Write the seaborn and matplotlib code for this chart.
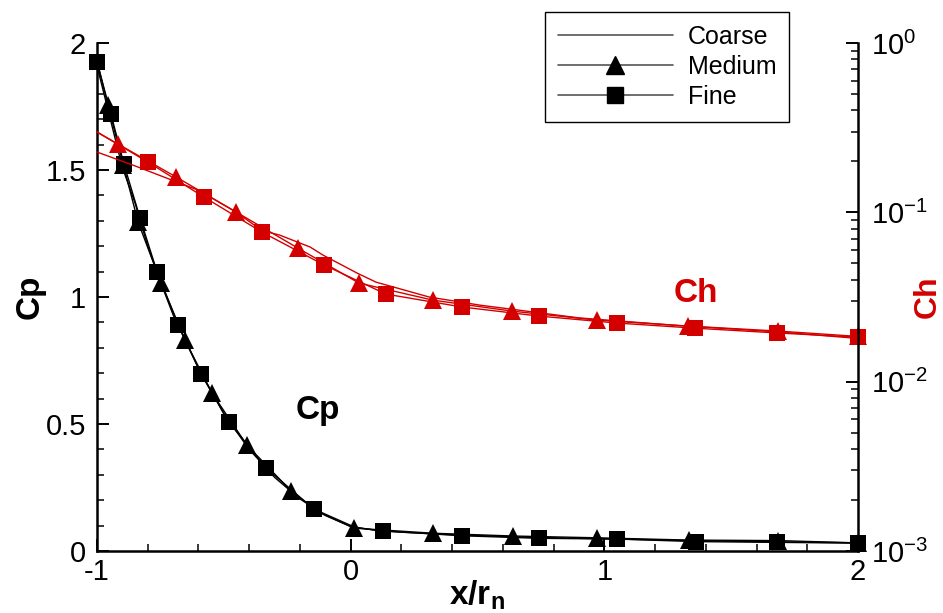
import matplotlib
matplotlib.use('Agg')
import matplotlib.pyplot as plt
from matplotlib.lines import Line2D
from matplotlib.ticker import MultipleLocator, LogLocator
import seaborn as sns
import pandas as pd

# Cp (left axis) - three grids
coarse_cp_x = [-1.0, -0.95, -0.9, -0.85, -0.8, -0.75, -0.7, -0.6, -0.5, -0.4, -0.3, -0.2,
               -0.1, 0.0, 0.1, 0.2, 0.4, 0.7, 1.0, 1.4, 1.7, 2.0]
coarse_cp = [1.91, 1.71, 1.51, 1.37, 1.20, 1.06, 0.93, 0.72, 0.54, 0.40, 0.29, 0.205,
             0.14, 0.097, 0.081, 0.074, 0.064, 0.054, 0.048, 0.040, 0.036, 0.032]

medium_cp_x = [-1.0, -0.957, -0.896, -0.838, -0.747, -0.653, -0.547, -0.409, -0.235, -0.12,
               0.013, 0.324, 0.64, 0.97, 1.333, 1.684, 2.0]
medium_cp = [1.93, 1.756, 1.52, 1.295, 1.055, 0.83, 0.622, 0.417, 0.236, 0.15,
             0.09, 0.07, 0.059, 0.052, 0.043, 0.041, 0.032]

fine_cp_x = [-1.0, -0.945, -0.894, -0.83, -0.763, -0.68, -0.59, -0.48, -0.334, -0.145, 0.02,
             0.127, 0.439, 0.741, 1.05, 1.361, 1.679, 2.0]
fine_cp = [1.925, 1.72, 1.524, 1.31, 1.098, 0.89, 0.697, 0.508, 0.327, 0.165, 0.092,
           0.079, 0.060, 0.050, 0.047, 0.037, 0.034, 0.031]

# Ch (right axis, log) - three grids
coarse_ch_x = [-1.0, -0.85, -0.7, -0.6, -0.45, -0.35, -0.28, -0.16, -0.11, 0.025, 0.10,
               0.31, 0.51, 0.90, 1.3, 1.7, 2.0]
coarse_ch = [0.227, 0.188, 0.154, 0.135, 0.100, 0.078, 0.0734, 0.0624, 0.056, 0.0438, 0.0387,
             0.0316, 0.0283, 0.0238, 0.0214, 0.0196, 0.0180]

medium_ch_x = [-1.0, -0.917, -0.689, -0.452, -0.208, 0.033, 0.324, 0.636, 0.970, 1.329,
               1.684, 2.0]
medium_ch = [0.298, 0.253, 0.162, 0.1005, 0.0615, 0.0382, 0.0303, 0.0261, 0.0231, 0.0213,
             0.0199, 0.0185]

fine_ch_x = [-1.0, -0.799, -0.578, -0.350, -0.105, 0.139, 0.439, 0.742, 1.049, 1.357,
             1.680, 2.0]
fine_ch = [0.298, 0.198, 0.123, 0.0765, 0.0489, 0.0329, 0.0276, 0.0244, 0.0222, 0.0207,
           0.0194, 0.0183]

labels = ['Coarse', 'Medium', 'Fine']
red = '#d40000'

sns.set_style('ticks')
plt.rcParams['font.family'] = ['Liberation Sans', 'DejaVu Sans']
plt.rcParams['mathtext.fontset'] = 'custom'
plt.rcParams['mathtext.rm'] = 'Liberation Sans'
plt.rcParams['mathtext.bf'] = 'Liberation Sans:bold'
plt.rcParams['axes.unicode_minus'] = False
plt.rcParams['text.color'] = 'black'
plt.rcParams['axes.labelcolor'] = 'black'
plt.rcParams['axes.edgecolor'] = 'black'
plt.rcParams['xtick.color'] = 'black'
plt.rcParams['ytick.color'] = 'black'

fig = plt.figure(figsize=(9.43, 6.13), dpi=100)
ax = fig.add_axes([97 / 943, 1 - 551 / 613, 761 / 943, 508 / 613])
ax2 = ax.twinx()

def draw(axis, x, y, color, marker=None, ms=None, skip=()):
    df = pd.DataFrame({'x': x, 'y': y})
    kw = dict(color=color, lw=1.0, clip_on=False, estimator=None, sort=False, legend=False)
    if marker:
        kw.update(marker=marker, markersize=ms, markeredgewidth=0,
                  markevery=[i for i in range(len(x)) if i not in skip])
    sns.lineplot(data=df, x='x', y='y', ax=axis, **kw)

# Cp curves (black)
draw(ax, coarse_cp_x, coarse_cp, 'black')
draw(ax, medium_cp_x, medium_cp, 'black', '^', 13, skip=(0, 9))
draw(ax, fine_cp_x, fine_cp, 'black', 's', 12, skip=(10,))

# Ch curves (red)
draw(ax2, coarse_ch_x, coarse_ch, red)
draw(ax2, medium_ch_x, medium_ch, red, '^', 13, skip=(0,))
draw(ax2, fine_ch_x, fine_ch, red, 's', 12, skip=(0,))

ax.set_xlim(-1, 2)
ax.set_ylim(0, 2)
ax2.set_yscale('log')
ax2.set_ylim(1e-3, 1e0)

ax.xaxis.set_minor_locator(MultipleLocator(0.2))
ax.yaxis.set_minor_locator(MultipleLocator(0.1))
ax.set_xticks([-1, 0, 1, 2])
ax.set_xticklabels(['-1', '0', '1', '2'])
ax.set_yticks([0, 0.5, 1, 1.5, 2])
ax.set_yticklabels(['0', '0.5', '1', '1.5', '2'])
ax2.yaxis.set_major_locator(LogLocator(base=10, numticks=10))
ax2.yaxis.set_minor_locator(LogLocator(base=10, subs=range(2, 10), numticks=20))

for a in (ax, ax2):
    a.spines['top'].set_visible(False)
    for s in a.spines.values():
        s.set_linewidth(1.8)
        s.set_color('black')
ax.spines['right'].set_visible(False)
ax2.spines['left'].set_visible(False)
ax2.spines['bottom'].set_visible(False)

ax.tick_params(axis='both', which='major', direction='in', length=8.5, width=1.4,
               labelsize=21, colors='black')
ax.tick_params(axis='x', which='major', pad=5)
ax.tick_params(axis='y', which='major', pad=8)
ax.tick_params(axis='both', which='minor', direction='in', length=5, width=1.1,
               colors='black')
ax.tick_params(top=False, right=False, which='both')
ax2.tick_params(axis='y', which='major', direction='in', length=8.5, width=1.4,
                labelsize=21, pad=9, colors='black')
ax2.tick_params(axis='y', which='minor', direction='in', length=5, width=1.1,
                colors='black')

ax.set_xlabel(r'$\mathbf{x/r_n}$', fontsize=24, va='center')
ax.xaxis.set_label_coords(0.5, -0.087)
ax.set_ylabel('Cp', fontsize=24, fontweight='bold', va='center')
ax.yaxis.set_label_coords(-0.088, 0.5)
ax2.set_ylabel('Ch', fontsize=23, fontweight='bold', color=red, va='center')
ax2.yaxis.set_label_coords(1.092, 0.5)

ax.text(-0.13, 0.555, 'Cp', fontsize=24, fontweight='bold', ha='center', va='center')
ax.text(1.36, 1.015, 'Ch', fontsize=24, fontweight='bold', color=red, ha='center',
        va='center')

handles = [
    Line2D([], [], color='#555555', lw=1.2),
    Line2D([], [], color='#555555', lw=1.2, marker='^', markersize=13,
           markerfacecolor='black', markeredgecolor='black'),
    Line2D([], [], color='#555555', lw=1.2, marker='s', markersize=12,
           markerfacecolor='black', markeredgecolor='black'),
]
leg = fig.legend(handles, labels, loc='upper left', bbox_to_anchor=(545 / 943, 1 - 12 / 613),
                 fontsize=18, frameon=True, fancybox=False, framealpha=1,
                 handlelength=4.6, handletextpad=0.6, labelspacing=0.25,
                 borderpad=0.5, borderaxespad=0)
leg.get_frame().set_edgecolor('black')
leg.get_frame().set_linewidth(1.0)

fig.savefig('out.png', dpi=100)
